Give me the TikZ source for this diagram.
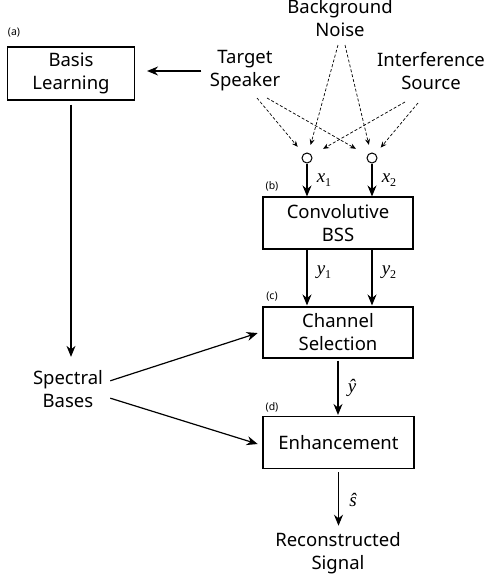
\documentclass[tikz,border=0pt]{standalone}
\usepackage{fontspec}
\setmainfont{Noto Sans}
\newfontfamily\rmx{Liberation Serif}
\usetikzlibrary{arrows.meta}
\newcommand{\mvar}[2]{{\rmx\itshape #1}{\rmx\raisebox{-4pt}{\fontsize{12}{12}\selectfont #2}}}
\tikzset{
  box/.style={draw, line width=1.1pt, inner sep=0pt, font=\fontsize{18.5}{23}\selectfont, align=center},
  txt/.style={font=\fontsize{18.5}{23}\selectfont, align=center},
  tag/.style={font=\fontsize{10.5}{12}\selectfont},
  mlab/.style={font=\fontsize{19}{20}\selectfont},
  arr/.style={line width=1.2pt, -{Stealth[length=11pt,width=9pt]}},
  darr/.style={line width=0.7pt, dash pattern=on 3pt off 2pt, -{Stealth[length=6pt,width=5pt]}, shorten >=9pt},
  mic/.style={circle, draw, line width=1pt, minimum size=10pt, inner sep=0pt}
}
\begin{document}
\begin{tikzpicture}[x=1pt,y=-1pt]
\useasboundingbox (0,0) rectangle (485,579);
% boxes
\node[box, minimum width=127pt, minimum height=53pt] (basis) at (71,73.5) {Basis\\Learning};
\node[box, minimum width=150pt, minimum height=52pt] (bss) at (338,223) {Convolutive\\BSS};
\node[box, minimum width=150pt, minimum height=51pt] (cs) at (338,332.5) {Channel\\Selection};
\node[box, minimum width=151pt, minimum height=52pt] (enh) at (338.5,442.5) {Enhancement};
% texts
\node[txt] (ts) at (245,71) {Target\\Speaker};
\node[txt] (bn) at (340,18) {Background\\Noise};
\node[txt] (is) at (431,71) {Interference\\Source};
\node[txt] (sb) at (68,389) {Spectral\\Bases};
\node[txt] (rs) at (338,553) {Reconstructed\\Signal};
% tags
\node[tag] (ta) at (14,33) {(a)};
\node[tag] (tb) at (272,186) {(b)};
\node[tag] (tc) at (272,297) {(c)};
\node[tag] (td) at (272,407) {(d)};
% mics
\node[mic] (m1) at (307,158) {};
\node[mic] (m2) at (372,158) {};
% dashed source arrows
\coordinate (ts1) at (257,98);
\coordinate (ts2) at (267,98);
\coordinate (bn1) at (338,45);
\coordinate (bn2) at (345,45);
\coordinate (is1) at (405,102);
\coordinate (is2) at (418,103);
\draw[darr] (ts1) -- (m1);
\draw[darr, shorten >=13pt] (ts2) -- (m2);
\draw[darr, shorten >=8pt] (bn1) -- (m1);
\draw[darr, shorten >=8pt] (bn2) -- (m2);
\draw[darr, shorten >=13pt] (is1) -- (m1);
\draw[darr, shorten >=8pt] (is2) -- (m2);
% solid arrows
\draw[arr, shorten <=5pt, shorten >=12pt] (ts.west) -- (ts.west -| basis.east);
\draw[arr, shorten <=4pt, shorten >=10pt] (basis.south) -- (basis.south |- sb.north);
\draw[arr] (m1) -- (m1 |- bss.north);
\draw[arr] (m2) -- (m2 |- bss.north);
\node[mlab] (lx1) at (324,180) {\mvar{x}{1}};
\node[mlab] (lx2) at (389,180) {\mvar{x}{2}};
\draw[arr, shorten >=1pt] (bss.south -| m1) -- (cs.north -| m1);
\draw[arr, shorten >=1pt] (bss.south -| m2) -- (cs.north -| m2);
\node[mlab] (ly1) at (324,272) {\mvar{y}{1}};
\node[mlab] (ly2) at (389,272) {\mvar{y}{2}};
\draw[arr, shorten <=4pt, shorten >=5pt] ([yshift=7pt]sb.east) -- ([yshift=1pt]cs.west);
\draw[arr, shorten <=4pt, shorten >=5pt] ([yshift=-8pt]sb.east) -- ([yshift=-3pt]enh.west);
\draw[arr, shorten <=2pt, shorten >=1pt] (cs.south) -- (cs.south |- enh.north);
\node[mlab] (lyh) at (352,388) {{\rmx\itshape \^y}};
\draw[arr, shorten <=3pt, shorten >=3pt] (enh.south) -- (enh.south |- rs.north);
\node[mlab] (lsh) at (353,500) {{\rmx\itshape \^s}};
\end{tikzpicture}
\end{document}
